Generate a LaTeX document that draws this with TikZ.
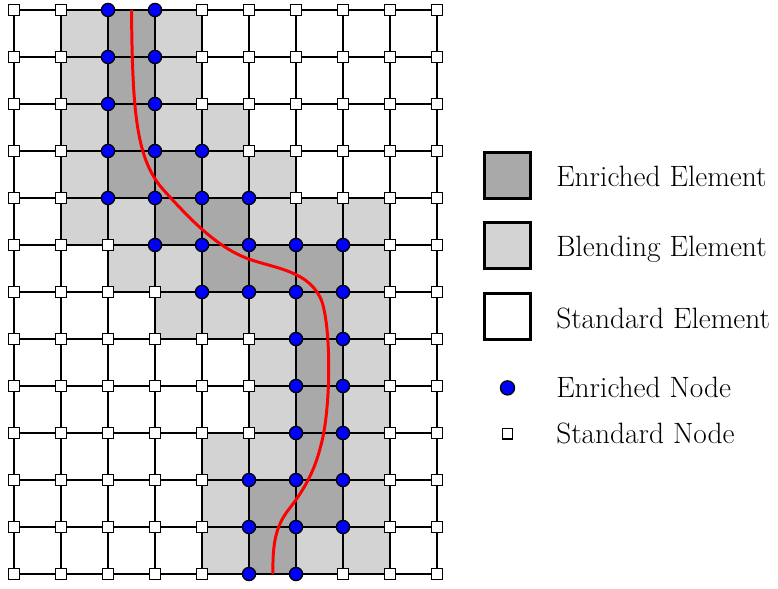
\documentclass[tikz,border=0pt]{standalone}
\definecolor{blendgray}{HTML}{D3D3D3}
\definecolor{enrgray}{HTML}{A9A9A9}
\definecolor{nodeblue}{HTML}{0000FF}
\tikzset{
 gridline/.style={line width=1.2pt, black},
 enrcell/.style={fill=enrgray},
 blendcell/.style={fill=blendgray},
 enrnode/.style={circle, draw=black, line width=0.8pt, fill=nodeblue, minimum size=0.28cm, inner sep=0pt},
 stdnode/.style={rectangle, draw=black, line width=0.8pt, fill=white, minimum size=0.24cm, inner sep=0pt},
 crack/.style={red, line width=1.8pt},
 legbox/.style={rectangle, draw=black, line width=1.8pt, minimum size=0.98cm, inner sep=0pt},
 legtext/.style={anchor=base west, inner sep=0pt, font=\fontsize{17.8}{21}\selectfont},
}
\foreach \p in {2-0,3-0,2-1,3-1,2-2,3-2,2-3,3-3,4-3,2-4,3-4,4-4,5-4,3-5,4-5,5-5,6-5,7-5,4-6,5-6,6-6,7-6,6-7,7-7,6-8,7-8,6-9,7-9,5-10,6-10,7-10,5-11,6-11,7-11,5-12,6-12}{\expandafter\gdef\csname enr-\p\endcsname{}}
\begin{document}
\begin{tikzpicture}
\useasboundingbox (-0.2979,0.2128) rectangle (16.2553,-12.2979);
\foreach \i in {0,...,9}{\foreach \j in {0,...,12}{\coordinate (p-\i-\j) at (\i,-\j);}}
% blending elements
\foreach \i/\j in {1/0,3/0,1/1,3/1,1/2,3/2,4/2,1/3,4/3,5/3,1/4,2/4,5/4,6/4,7/4,2/5,3/5,7/5,3/6,4/6,5/6,7/6,5/7,7/7,5/8,7/8,4/9,5/9,7/9,4/10,7/10,4/11,6/11,7/11}
  \fill[blendcell] (p-\i-\j) rectangle ++(1,-1);
% enriched elements
\foreach \i/\j in {2/0,2/1,2/2,2/3,3/3,3/4,4/4,4/5,5/5,6/5,6/6,6/7,6/8,6/9,5/10,6/10,5/11}
  \fill[enrcell] (p-\i-\j) rectangle ++(1,-1);
% grid
\foreach \i in {0,...,9} \draw[gridline] (p-\i-0) -- (p-\i-12);
\foreach \j in {0,...,12} \draw[gridline] (p-0-\j) -- (p-9-\j);
% crack
\coordinate (c0) at (2.5,0);
\coordinate (c1) at (3.2,-3.85);
\coordinate (c2) at (5.0,-5.3);
\coordinate (c3) at (6.55,-6.2);
\coordinate (c4) at (6.52,-9.3);
\coordinate (c5) at (5.85,-10.62);
\coordinate (c6) at (5.51,-12);
\draw[crack] (c0) .. controls (2.52,-2.2) and (2.6,-3.2) .. (c1)
  .. controls (3.7,-4.4) and (4.3,-5.05) .. (c2)
  .. controls (5.56,-5.5) and (6.3,-5.55) .. (c3)
  .. controls (6.75,-6.8) and (6.75,-8.5) .. (c4)
  .. controls (6.37,-9.9) and (6.1,-10.3) .. (c5)
  .. controls (5.55,-11.0) and (5.5,-11.4) .. (c6);
% nodes
\foreach \i in {0,...,9}{\foreach \j in {0,...,12}{%
  \ifcsname enr-\i-\j\endcsname
    \node[enrnode] (n-\i-\j) at (p-\i-\j) {};
  \else
    \node[stdnode] (n-\i-\j) at (p-\i-\j) {};
  \fi
}}
% legend
\node[legbox, fill=enrgray] (lbE) at (10.5,-3.52) {};
\node[legtext] (ltE) at (11.53,-3.75) {Enriched Element};
\node[legbox, fill=blendgray] (lbB) at (10.5,-5.02) {};
\node[legtext] (ltB) at (11.53,-5.25) {Blending Element};
\node[legbox, fill=white] (lbS) at (10.5,-6.52) {};
\node[legtext] (ltS) at (11.53,-6.77) {Standard Element};
\node[enrnode, minimum size=0.3cm] (lnE) at (10.5,-8.04) {};
\node[legtext] (ltnE) at (11.53,-8.25) {Enriched Node};
\node[stdnode, minimum size=0.22cm] (lnS) at (10.5,-9.02) {};
\node[legtext] (ltnS) at (11.53,-9.23) {Standard Node};
\end{tikzpicture}
\end{document}
